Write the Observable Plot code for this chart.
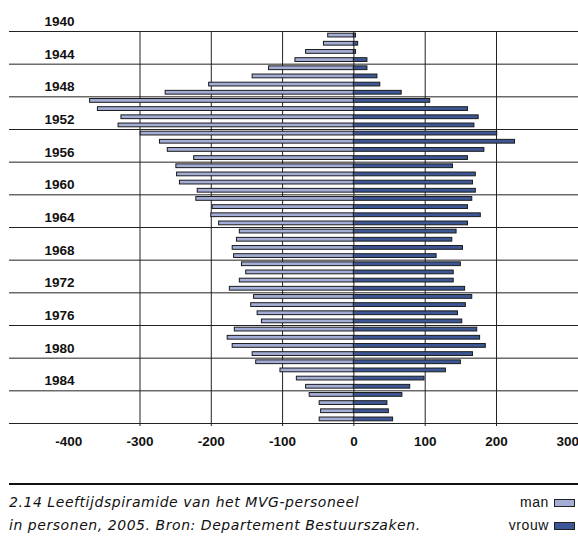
<!DOCTYPE html>
<html>
<head>
<meta charset="utf-8">
<script src="https://cdn.jsdelivr.net/npm/d3@7"></script>
<script src="https://cdn.jsdelivr.net/npm/@observablehq/plot@0.6"></script>
<style>
  body { margin: 0; background: #fff; }
  #chart svg { display: block; }
  .cap { margin: 23px 0 0 9px; width: 569px; border-top: 2px solid #111; padding-top: 6px;
         font-family: "DejaVu Sans", "Liberation Sans", Arial, sans-serif; color: #111; }
  .row { display: flex; justify-content: space-between; align-items: baseline; height: 23px; line-height: 23px; }
  .row .t { font-style: italic; font-size: 14px; letter-spacing: 0.55px; }
  .row .lg { font-family: "Liberation Sans", Arial, sans-serif; font-size: 14px; letter-spacing: 0.6px; padding-right: 3px; }
  .sw { display: inline-block; width: 19px; height: 6px; border: 1px solid #222; margin-left: 5px; vertical-align: baseline; }
</style>
</head>
<body>
<div id="chart"></div>
<div class="cap">
  <div class="row"><span class="t">2.14 Leeftijdspiramide van het MVG-personeel</span><span class="lg">man<span class="sw" id="swMan"></span></span></div>
  <div class="row"><span class="t">in personen, 2005. Bron: Departement Bestuurszaken.</span><span class="lg">vrouw<span class="sw" id="swWoman"></span></span></div>
</div>
<script>
// Birth years, one bar per year (top to bottom)
const years = d3.range(1940, 1988);
// Men (drawn to the left) and women (drawn to the right), number of persons
const men = [36,42,67,82,119,142,203,264,370,359,326,330,299,272,261,224,249,248,244,219,
             221,198,200,189,160,164,170,168,157,151,160,174,140,144,135,129,167,177,170,142,
             137,103,80,67,62,48,46,48];
const women = [3,6,3,19,19,33,37,67,107,160,175,169,201,226,183,160,139,171,167,171,
               166,160,178,160,144,138,153,116,150,140,140,156,166,157,146,152,173,177,185,167,
               150,129,99,79,68,47,49,55];
// Axis labels
const yearLabels = [1940,1944,1948,1952,1956,1960,1964,1968,1972,1976,1980,1984];
const xTicks = [-400,-300,-200,-100,0,100,200,300];
const gridTicks = [-300,-200,-100,0,100,200];

const manColor = "#a3add6";
const womanColor = "#3d5796";
document.getElementById("swMan").style.background = manColor;
document.getElementById("swWoman").style.background = womanColor;

const rows = years.map((year, i) => ({year, man: men[i], woman: women[i]}));
const groupEdges = [...yearLabels.map(y => y - 0.5), years[years.length - 1] + 0.5];

const chart = Plot.plot({
  width: 578,
  height: 460,
  marginLeft: 9,
  marginRight: 0,
  marginTop: 31,
  marginBottom: 37,
  style: {fontFamily: "'Liberation Sans', Arial, Helvetica, sans-serif", color: "#111", background: "#fff"},
  x: {domain: [-483, 315]},
  y: {domain: [years[0] - 0.5, years[years.length - 1] + 0.5], reverse: true, axis: null},
  marks: [
    Plot.ruleX(gridTicks, {stroke: "#222", strokeWidth: 1, insetBottom: -3}),
    Plot.ruleY(groupEdges, {stroke: "#222", strokeWidth: 1}),
    Plot.rect(rows, {
      x1: 0, x2: d => -d.man,
      y1: d => d.year - 0.5, y2: d => d.year + 0.5,
      insetTop: 2.2, insetBottom: 2.2,
      fill: manColor, stroke: "#1a1a1a", strokeWidth: 1
    }),
    Plot.rect(rows, {
      x1: 0, x2: "woman",
      y1: d => d.year - 0.5, y2: d => d.year + 0.5,
      insetTop: 2.2, insetBottom: 2.2,
      fill: womanColor, stroke: "#1a1a1a", strokeWidth: 1
    }),
    Plot.axisX({
      ticks: xTicks, tickSize: 0, tickPadding: 13, tickFormat: d => String(d),
      fontWeight: "bold", fontSize: 13.5, label: null
    }),
    Plot.text(yearLabels, {
      y: d => d - 0.5, frameAnchor: "left", dx: 35, dy: -5.5,
      text: d => String(d), textAnchor: "start", lineAnchor: "bottom",
      fontWeight: "bold", fontSize: 13.5, fill: "#111"
    })
  ]
});
document.getElementById("chart").appendChild(chart);
</script>
</body>
</html>
